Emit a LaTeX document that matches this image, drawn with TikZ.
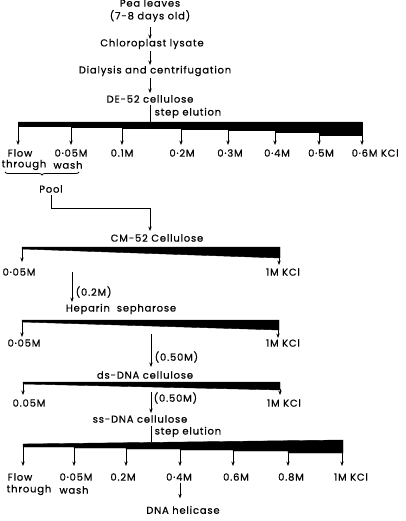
\documentclass[tikz,border=0pt]{standalone}
\usepackage{fontspec}
\setmainfont{Poppins}[LetterSpace=8,FakeBold=0.6]
\usetikzlibrary{arrows.meta,decorations.pathreplacing}
\tikzset{
  lbl/.style={font=\fontsize{10}{12}\selectfont, inner sep=0.5pt},
  arr/.style={line width=0.8pt,-{Stealth[length=4.5pt,width=3.4pt]}},
  ln/.style={line width=0.8pt},
  wedge/.style={fill=black,draw=black,line width=0.4pt}
}
\begin{document}
\begin{tikzpicture}[x=1pt,y=-1pt]
\useasboundingbox (0,0) rectangle (405,521);
% top chain
\node[lbl] (pea) at (150,3) {Pea leaves};
\node[lbl] (age) at (150,16) {(7-8 days old)};
\node[lbl] (chl) at (152,44) {Chloroplast lysate};
\node[lbl] (dia) at (155,71) {Dialysis and centrifugation};
\node[lbl] (de) at (150,99) {DE-52 cellulose};
\coordinate (a0) at (150,27); \coordinate (b0) at (150,39);
\draw[arr] (a0) -- (b0);
\coordinate (a1) at (150,51); \coordinate (b1) at (150,65);
\draw[arr] (a1) -- (b1);
\coordinate (a2) at (150,78); \coordinate (b2) at (150,93);
\draw[arr] (a2) -- (b2);
% wedge 1
\coordinate (w1top) at (150,122);
\draw[ln] (150,105) -- (w1top);
\node[lbl,anchor=west] (se1) at (154,113) {step elution};
\fill[wedge] (18,122) -- (362,122) -- (362,135) -- (319,135) -- (319,132) -- (275,132) -- (275,130.5)
  -- (228,130.5) -- (228,129.5) -- (181,129.5) -- (181,128) -- (122,128) -- (122,127) -- (71,127)
  -- (71,126) -- (18,126) -- cycle;
\node[lbl] (f1) at (20,153) {Flow};
\node[lbl] (t1) at (24,165) {through};
\node[lbl] (c1a) at (71,153) {0·05M};
\node[lbl] (w1) at (68,165) {wash};
\node[lbl] (c1b) at (122,153) {0.1M};
\node[lbl] (c1c) at (182,153) {0·2M};
\node[lbl] (c1d) at (230,153) {0·3M};
\node[lbl] (c1e) at (277,153) {0·4M};
\node[lbl] (c1f) at (321,153) {0·5M};
\node[lbl,anchor=west] (c1g) at (351,153) {0·6M KCl};
\foreach \x/\y in {18/126,71/127,122/128,181/129.5,228/130.5,275/132,319/135,362/135}{
  \draw[arr] (\x,\y) -- (\x,145);
}
% brace and pool
\draw[ln,decorate,decoration={brace,mirror,amplitude=3pt}] (5,172) -- (79,172);
\node[lbl] (pool) at (51,189) {Pool};
\coordinate (pj) at (150,208);
\draw[ln] (pool.south) ++(0,2) -- (51,208) -- (pj);
\node[lbl] (cm) at (157,238) {CM-52 Cellulose};
\draw[arr] (pj) -- (150,231);
% wedge 2
\fill[wedge] (22,247) -- (280,247) -- (280,258) -- (22,249) -- cycle;
\draw[arr] (22,248) -- (22,262);
\draw[arr] (279,257) -- (279,265);
\node[lbl] (c2a) at (19,272) {0·05M};
\node[lbl] (c2b) at (283,272) {1M KCl};
\coordinate (h1) at (72,272);
\node[lbl] (hep) at (121,309) {Heparin\ \ sepharose};
\draw[arr] (h1) -- (72,302);
\node[lbl,anchor=west] (p02) at (75,292) {(0.2M)};
% wedge 3
\fill[wedge] (22,320) -- (279,320) -- (279,330) -- (22,322) -- cycle;
\draw[arr] (22,321) -- (22,337);
\draw[arr] (278,329) -- (278,338);
\node[lbl] (c3a) at (24,343) {0·05M};
\node[lbl] (c3b) at (283,343) {1M KCl};
\coordinate (d1) at (151,334);
\node[lbl] (ds) at (145,375) {ds-DNA cellulose};
\draw[arr] (d1) -- (151,367);
\node[lbl,anchor=west] (p05a) at (154,357) {(0.50M)};
% wedge 4
\fill[wedge] (23,382) -- (280,382) -- (280,390) -- (23,384) -- cycle;
\draw[arr] (23,383) -- (23,395);
\draw[arr] (280,389) -- (280,395);
\node[lbl] (c4a) at (29,403) {0.05M};
\node[lbl] (c4b) at (284,403) {1M KCl};
\coordinate (s1) at (151,392);
\node[lbl] (ss) at (140,419) {ss-DNA cellulose};
\draw[arr] (s1) -- (151,413);
\node[lbl,anchor=west] (p05b) at (153,398) {(0.50M)};
% wedge 5
\draw[ln] (151,426) -- (151,442);
\node[lbl,anchor=west] (se2) at (154,432) {step elution};
\fill[wedge] (23,444) -- (343,440) -- (343,453) -- (288,453) -- (288,451) -- (233,451) -- (233,450)
  -- (180,450) -- (180,449) -- (126,449) -- (126,448) -- (74,448) -- (74,447) -- (23,447) -- cycle;
\foreach \x/\y in {23/447,74/448,126/449,180/450,233/451,288/453,342/453}{
  \draw[arr] (\x,\y) -- (\x,466);
}
\node[lbl] (f5) at (20,477) {Flow};
\node[lbl] (t5) at (29,490) {through};
\node[lbl] (c5a) at (76,477) {0·05M};
\node[lbl] (w5) at (74,490) {wash};
\node[lbl] (c5b) at (123,477) {0.2M};
\node[lbl] (c5c) at (179,477) {0·4M};
\node[lbl] (c5d) at (236,477) {0.6M};
\node[lbl] (c5e) at (291,477) {0.8M};
\node[lbl] (c5f) at (351,477) {1M KCl};
\node[lbl] (hel) at (183,510) {DNA helicase};
\draw[arr] (c5c.south) ++(1,2) -- ++(0,15);
\end{tikzpicture}
\end{document}
